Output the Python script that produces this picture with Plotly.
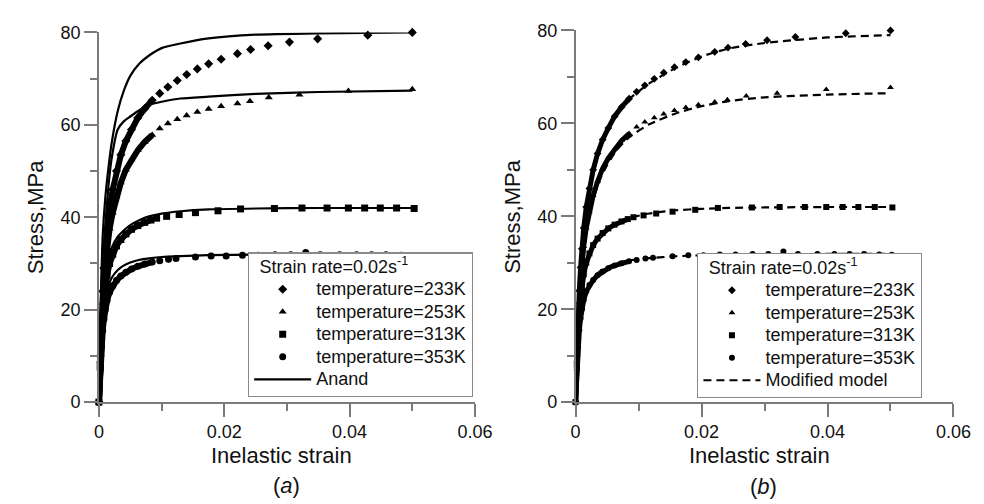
import plotly.graph_objects as go

# ---------------- data ----------------
# experimental data, strain rate 0.02 s^-1
strain_233 = [0, 0.0002, 0.0004, 0.0006, 0.0008, 0.001, 0.0013, 0.0017, 0.0022, 0.0028, 0.0035, 0.0043,
              0.0052, 0.0062, 0.0073, 0.0085, 0.0097, 0.011, 0.0125, 0.014, 0.0157, 0.0175, 0.0195, 0.0221,
              0.0242, 0.027, 0.0304, 0.0349, 0.0429, 0.050]
stress_233 = [0, 10, 18, 24, 29, 33, 37.5, 42, 46, 50, 53.5, 56.5,
              59, 61.5, 63.5, 65.3, 66.8, 68.2, 69.6, 70.9, 72.1, 73.2, 74.2, 75.4,
              76.3, 77.1, 77.9, 78.6, 79.4, 80.0]

strain_253 = [0, 0.0002, 0.0004, 0.0006, 0.0008, 0.001, 0.0013, 0.0017, 0.0022, 0.0028, 0.0035, 0.0043,
              0.0052, 0.0062, 0.0073, 0.0085, 0.0097, 0.011, 0.0125, 0.014, 0.0157, 0.0175, 0.0195, 0.0221,
              0.0241, 0.0271, 0.032, 0.0398, 0.050]
stress_253 = [0, 9, 16, 21.5, 26, 29.5, 33.5, 37.5, 41, 44.5, 47.5, 50.3,
              52.5, 54.5, 56.3, 57.8, 59.2, 60.3, 61.2, 62, 62.8, 63.4, 64, 64.6,
              65.1, 65.9, 66.5, 67.3, 67.7]

strain_313 = [0, 0.0002, 0.0004, 0.0006, 0.0008, 0.001, 0.0013, 0.0017, 0.0022, 0.0028, 0.0035, 0.0043,
              0.0052, 0.0062, 0.0073, 0.0083, 0.0092, 0.0108, 0.0128, 0.0154, 0.019, 0.0226, 0.028,
              0.0324, 0.0364, 0.0398, 0.0424, 0.0449, 0.0475, 0.0503]
stress_313 = [0, 8, 14, 18.5, 22, 24.5, 27.5, 30, 32, 33.8, 35.2, 36.4,
              37.4, 38.2, 38.9, 39.4, 39.8, 40.2, 40.6, 41, 41.4, 41.8, 41.9,
              42, 42, 42, 42, 42, 42, 41.9]

strain_353 = [0, 0.0002, 0.0004, 0.0006, 0.0008, 0.001, 0.0013, 0.0017, 0.0022, 0.0028, 0.0035, 0.0043,
              0.0052, 0.0062, 0.0073, 0.0085, 0.0097, 0.0111, 0.0123, 0.0154, 0.0179, 0.0203, 0.0229,
              0.0254, 0.0281, 0.0306, 0.033, 0.0353, 0.0384, 0.0411, 0.0435, 0.0458, 0.0482, 0.0502]
stress_353 = [0, 7, 12, 15.5, 18, 20, 22, 23.8, 25.2, 26.3, 27.3, 28.1,
              28.8, 29.4, 29.9, 30.3, 30.6, 30.9, 31.1, 31.4, 31.6, 31.6, 31.8,
              31.8, 31.9, 31.9, 32.4, 31.9, 31.9, 31.9, 31.9, 31.9, 31.8, 31.7]

# Anand model (panel a)
anand_strain = [0, 0.0003, 0.0006, 0.001, 0.0015, 0.002, 0.003, 0.004, 0.005, 0.0065, 0.008, 0.01,
                0.013, 0.0175, 0.025, 0.035, 0.05]
anand_233 = [0, 22, 36, 44, 50.5, 55.8, 63, 67.5, 70.6, 73.3, 75, 76.6, 77.6, 78.7, 79.5, 79.8, 80]
anand_253 = [0, 17, 28, 38, 46.5, 52.5, 59, 60.8, 61.8, 63.2, 64.3, 65, 65.7, 66.1, 66.7, 67.1, 67.4]
anand_313 = [0, 14, 21, 27, 31, 33.3, 35.8, 37.2, 38.3, 39.4, 40.2, 40.8, 41.3, 41.7, 41.9, 42, 42]
anand_353 = [0, 12, 17.5, 22, 25, 26.8, 28.6, 29.6, 30.2, 30.8, 31.1, 31.4, 31.6, 31.8, 31.9, 32, 32]

# Modified model (panel b)
mod_strain = [0, 0.0003, 0.0006, 0.001, 0.0015, 0.002, 0.003, 0.004, 0.005, 0.0065, 0.0085, 0.0117,
              0.016, 0.02, 0.0243, 0.03, 0.04, 0.05]
mod_233 = [0, 14, 23, 31, 38, 43.5, 50.5, 55, 58.3, 62, 65.2, 68.6, 72, 74.4, 76.1, 77.3, 78.5, 79]
mod_253 = [0, 13, 21, 28.5, 34.5, 39, 44.5, 48.3, 51, 54.2, 57, 59.8, 62.2, 63.7, 64.8, 65.6, 66.2, 66.5]
mod_313 = [0, 11, 17.5, 23.5, 28, 31, 34.3, 36.2, 37.4, 38.6, 39.6, 40.6, 41.3, 41.6, 41.8, 41.9, 42, 42]
mod_353 = [0, 10, 15, 19.5, 22.8, 24.8, 27, 28.3, 29.1, 29.9, 30.5, 31, 31.4, 31.6, 31.7, 31.8, 31.9, 31.9]

temp_labels = ["temperature=233K", "temperature=253K", "temperature=313K", "temperature=353K"]
legend_title = "Strain rate=0.02s<sup>-1</sup>"
x_tickvals = [0, 0.02, 0.04, 0.06]
x_ticktext = ["0", "0.02", "0.04", "0.06"]
y_tickvals = [0, 20, 40, 60, 80]

# ---------------- styling ----------------
W, H = 984, 504
FONT = "Liberation Sans, Arial, sans-serif"
AXIS_GREY = "#7a7a7a"
INK = "#111111"
symbols = ["diamond", "triangle-up", "square", "circle"]
DENSE_LIMIT = 0.0085
LEG_TEXT = "<span style='font-size:18px'>{}</span>"


def px(x):
    return x / W


def py(y):
    return 1 - y / H


exp_sets = [(strain_233, stress_233), (strain_253, stress_253),
            (strain_313, stress_313), (strain_353, stress_353)]
anand_sets = [anand_233, anand_253, anand_313, anand_353]
mod_sets = [mod_233, mod_253, mod_313, mod_353]

fig = go.Figure()

panels = [
    dict(xa="x", ya="y", leg="legend", msize=7, dense_w=6,
         model_x=anand_strain, model_sets=anand_sets, model_name="Anand", dash="solid"),
    dict(xa="x2", ya="y2", leg="legend2", msize=6, dense_w=5,
         model_x=mod_strain, model_sets=mod_sets, model_name="Modified model", dash="8px,5px"),
]

for p in panels:
    # dense early measurements (overlapping markers form a thick band)
    for (sx, sy) in exp_sets:
        dx = [a for a in sx if a <= DENSE_LIMIT]
        dy = [b for a, b in zip(sx, sy) if a <= DENSE_LIMIT]
        fig.add_trace(go.Scatter(x=dx, y=dy, mode="lines", xaxis=p["xa"], yaxis=p["ya"],
                                 line=dict(color="black", width=p["dense_w"]),
                                 showlegend=False, hoverinfo="skip", cliponaxis=False))
    # experimental markers
    for (sx, sy), lab, sym in zip(exp_sets, temp_labels, symbols):
        fig.add_trace(go.Scatter(x=sx, y=sy, mode="markers", name=LEG_TEXT.format(lab),
                                 xaxis=p["xa"], yaxis=p["ya"],
                                 marker=dict(symbol=sym, size=p["msize"], color="black",
                                             line=dict(width=0)),
                                 legend=p["leg"], cliponaxis=False))
    # model curves
    for i, my in enumerate(p["model_sets"]):
        fig.add_trace(go.Scatter(x=p["model_x"], y=my, mode="lines", name=LEG_TEXT.format(p["model_name"]),
                                 xaxis=p["xa"], yaxis=p["ya"],
                                 line=dict(color="black", width=2.2, dash=p["dash"],
                                           shape="spline", smoothing=0.6),
                                 legend=p["leg"], legendgroup=p["model_name"],
                                 showlegend=(i == 0), cliponaxis=False))

axis_common = dict(showgrid=False, zeroline=False, showline=True, linecolor=AXIS_GREY, linewidth=1.5,
                   ticks="outside", ticklen=13, tickwidth=1.5, tickcolor=AXIS_GREY,
                   tickfont=dict(family=FONT, size=18, color=INK), mirror=False)

xaxis_common = dict(axis_common, range=[0, 0.06], tickvals=x_tickvals, ticktext=x_ticktext,
                    minor=dict(dtick=0.01, ticks="outside", ticklen=7, tickwidth=1.5, tickcolor=AXIS_GREY))
yaxis_common = dict(axis_common, range=[0, 80], tickvals=y_tickvals,
                    minor=dict(dtick=10, ticks="outside", ticklen=7, tickwidth=1.5, tickcolor=AXIS_GREY))

legend_common = dict(bgcolor="white", bordercolor="#8a8a8a", borderwidth=1.2,
                     font=dict(family=FONT, size=15, color=INK), itemwidth=57,
                     tracegroupgap=0, xanchor="right", yanchor="bottom",
                     title=dict(text="&nbsp;&nbsp;" + LEG_TEXT.format(legend_title),
                                font=dict(family=FONT, size=15, color=INK)))

fig.update_layout(
    width=W, height=H, margin=dict(l=0, r=0, t=0, b=0),
    paper_bgcolor="white", plot_bgcolor="white",
    font=dict(family=FONT, color=INK),
    xaxis=dict(xaxis_common, domain=[px(88), px(473)], anchor="y"),
    yaxis=dict(yaxis_common, domain=[py(400), py(15)], anchor="x"),
    xaxis2=dict(xaxis_common, domain=[px(576), px(963)], anchor="y2"),
    yaxis2=dict(yaxis_common, domain=[py(400), py(13)], anchor="x2"),
    legend=dict(legend_common, x=px(471), y=py(395)),
    legend2=dict(legend_common, x=px(931), y=py(396)),
)

title_font = dict(family=FONT, size=22, color=INK)
annots = [
    dict(text="Stress,MPa", x=px(23), y=py(207), textangle=-90),
    dict(text="Stress,MPa", x=px(512), y=py(207), textangle=-90),
    dict(text="Inelastic strain", x=px(275), y=py(456)),
    dict(text="Inelastic strain", x=px(764), y=py(456)),
    dict(text="(<i>a</i>)", x=px(280), y=py(487)),
    dict(text="(<i>b</i>)", x=px(768), y=py(488)),
]
for a in annots:
    fig.add_annotation(xref="paper", yref="paper", showarrow=False, font=title_font,
                       xanchor="center", yanchor="middle", **a)

fig.write_html("out.html")
